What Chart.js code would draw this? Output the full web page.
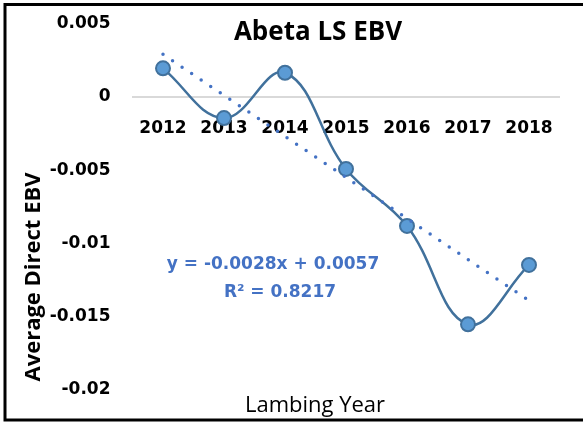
<!DOCTYPE html>
<html>
<head>
<meta charset="utf-8">
<script src="https://cdn.jsdelivr.net/npm/chart.js@4"></script>
<style>
  html, body { margin: 0; padding: 0; background: #fff; }
  #wrap { width: 583px; height: 423px; position: relative; }
</style>
</head>
<body>
<div id="wrap"><canvas id="ebvChart" width="583" height="423"></canvas></div>
<script>
// values
const years = ['2012', '2013', '2014', '2015', '2016', '2017', '2018'];
const avgEbv = [0.00194, -0.00145, 0.00164, -0.00492, -0.00881, -0.01552, -0.01147];
// linear trendline, only its two ends (y = -0.0028x + 0.0057)
const trendEnds = [0.0029, null, null, null, null, null, -0.0139];
const yTicks = [-0.02, -0.015, -0.01, -0.005, 0, 0.005];
const chartTitle = 'Abeta LS EBV';
const xTitle = 'Lambing Year';
const yTitle = 'Average Direct EBV';
const eqLines = ['y = -0.0028x + 0.0057', 'R\u00B2 = 0.8217'];

const tickFont = { family: 'DejaVu Sans', size: 17, weight: 'bold' };

// frame, titles and the trendline label are plain canvas text
const decorPlugin = {
    id: 'decor',
    beforeDraw(chart) {
        const c = chart.ctx;
        c.save();
        c.fillStyle = '#fff';
        c.fillRect(0, 0, chart.width, chart.height);
        c.strokeStyle = '#000';
        c.lineWidth = 3;
        c.strokeRect(5, 4.5, 600, 415.5);
        c.restore();
    },
    afterDraw(chart) {
        const c = chart.ctx;
        c.save();
        c.fillStyle = '#000';
        c.textAlign = 'center';
        c.textBaseline = 'alphabetic';
        c.font = 'bold 26px "Open Sans"';
        c.fillText(chartTitle, 318, 39.5);
        c.font = '22px "Open Sans"';
        c.fillText(xTitle, 315, 412);

        c.save();
        c.translate(40, 277);
        c.rotate(-Math.PI / 2);
        c.font = 'bold 22px "Open Sans"';
        c.fillText(yTitle, 0, 0);
        c.restore();

        c.fillStyle = '#4472C4';
        c.font = 'bold 17px "DejaVu Sans"';
        c.fillText(eqLines[0], 273, 269);
        c.fillText(eqLines[1], 280, 297);
        c.restore();
    }
};

new Chart(document.getElementById('ebvChart'), {
    type: 'line',
    data: {
        labels: years,
        datasets: [
            {
                label: 'Linear trend',
                data: trendEnds,
                spanGaps: true,
                borderColor: '#4472C4',
                borderWidth: 3.5,
                borderDash: [0, 11.5],
                borderCapStyle: 'round',
                pointRadius: 0,
                tension: 0,
                order: 0
            },
            {
                label: 'Average Direct EBV',
                data: avgEbv,
                borderColor: '#41719C',
                borderWidth: 2.5,
                tension: 0.4,
                pointRadius: 7,
                pointBackgroundColor: '#5B9BD5',
                pointBorderColor: '#41719C',
                pointBorderWidth: 2,
                order: 1
            }
        ]
    },
    options: {
        responsive: false,
        animation: false,
        layout: { padding: { top: 23.5, bottom: 33, right: 23.5, left: 0 } },
        plugins: {
            legend: { display: false },
            title: { display: false },
            tooltip: { enabled: false }
        },
        scales: {
            x: {
                position: { y: 0 },
                offset: true,
                grid: { display: false, drawTicks: false },
                border: { display: true, color: '#d9d9d9', width: 2 },
                ticks: { color: '#000', font: tickFont, padding: 22, maxRotation: 0 }
            },
            y: {
                min: yTicks[0],
                max: yTicks[yTicks.length - 1],
                grid: { display: false, drawTicks: false },
                border: { display: false },
                afterFit(scale) {
                    scale.width = 132.5;
                    scale.paddingTop = 0;
                    scale.paddingBottom = 0;
                },
                afterBuildTicks(scale) { scale.ticks = yTicks.map(v => ({ value: v })); },
                ticks: {
                    color: '#000',
                    font: tickFont,
                    padding: 22,
                    callback: v => String(parseFloat(v.toFixed(4)))
                }
            }
        }
    },
    plugins: [decorPlugin]
});
</script>
</body>
</html>
